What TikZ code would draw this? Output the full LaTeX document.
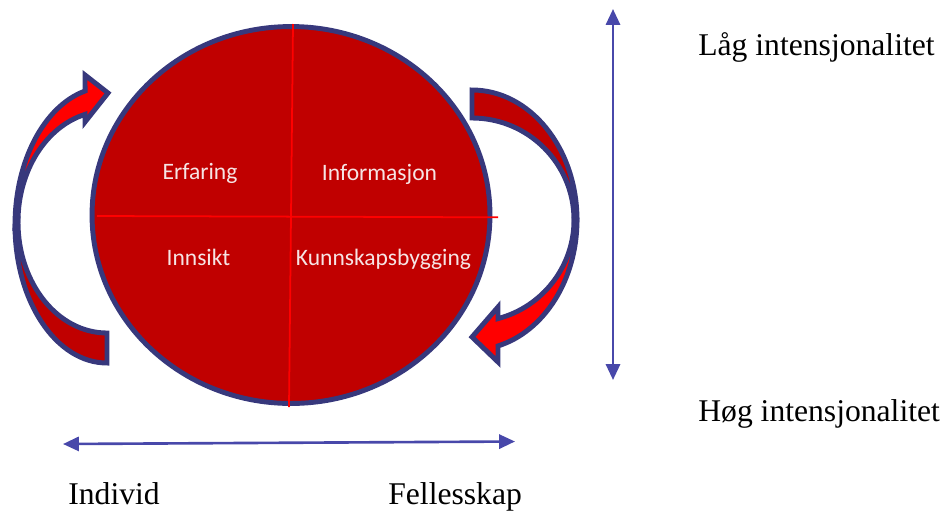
\documentclass[tikz,border=0pt]{standalone}
\usepackage{fontspec}
\newfontfamily\quadfont{Carlito}
\newfontfamily\axisfont{Liberation Serif}
\usetikzlibrary{shapes.geometric,arrows.meta}

\definecolor{discred}{RGB}{192,0,0}
\definecolor{brightred}{RGB}{255,0,0}
\definecolor{rimblue}{RGB}{55,56,124}
\definecolor{axisblue}{RGB}{72,72,170}
\definecolor{quadtext}{RGB}{246,228,228}

\tikzset{
    rim/.style={draw=rimblue, line width=2.8pt},
    crossline/.style={draw=brightred, line width=1pt},
    quadlabel/.style={font=\quadfont\fontsize{13.4}{16}\selectfont, text=quadtext, inner sep=0pt, anchor=base},
    axislabel/.style={font=\axisfont\fontsize{18}{22}\selectfont, inner sep=0pt, anchor=base west},
    axisarrow/.style={draw=axisblue, line width=1.5pt, {Triangle[length=9pt,width=8pt]}-{Triangle[length=9pt,width=8pt]}}
}

\begin{document}
\begin{tikzpicture}[x=0.02cm, y=-0.02cm]
    \useasboundingbox (0,0) rectangle (942,511);

    % Curved arrow on the left (tail at the bottom, head at the top)
    \draw[rim, fill=discred] (15,225) arc[start angle=180, end angle=90, x radius=92, y radius=138]
        -- (107,333) arc[start angle=90, end angle=180, x radius=89, y radius=111] -- cycle;
    \draw[rim, fill=brightred] (15,225) arc[start angle=180, end angle=256.2, x radius=92, y radius=138]
        -- (85,75) -- (108,93) -- (85,122) -- (85,114.4)
        arc[start angle=255.7, end angle=180, x radius=89, y radius=111] -- cycle;

    % Curved arrow on the right (tail at the top, head at the bottom)
    \draw[rim, fill=discred] (472,90) arc[start angle=270, end angle=360, x radius=105, y radius=130]
        -- (574,220) arc[start angle=0, end angle=-90, x radius=102, y radius=102] -- cycle;
    \draw[rim, fill=brightred] (577,220) arc[start angle=0, end angle=75.66, x radius=105, y radius=130]
        -- (498,362) -- (472,337) -- (498,307) -- (498,318.6)
        arc[start angle=75.23, end angle=0, x radius=102, y radius=102] -- cycle;

    % The disc with its four quadrants
    \node[ellipse, rim, fill=discred, minimum width=7.96cm, minimum height=7.54cm, inner sep=0pt] (disc) at (291,215) {};
    \coordinate (qtop) at (293,24);
    \coordinate (qbottom) at (289,407);
    \coordinate (qleft) at (97,216);
    \coordinate (qright) at (498,217.3);
    \draw[crossline] (qtop) -- (qbottom);
    \draw[crossline] (qleft) -- (qright);

    \node[quadlabel] (erfaring) at (200,179.3) {Erfaring};
    \node[quadlabel] (informasjon) at (379.5,180.7) {Informasjon};
    \node[quadlabel] (innsikt) at (198.5,265) {Innsikt};
    \node[quadlabel] (kunnskap) at (383.5,265) {Kunnskapsbygging};

    % Axes
    \coordinate (lowtip) at (613,9);
    \coordinate (hightip) at (613,380);
    \coordinate (individtip) at (63,444);
    \coordinate (fellestip) at (515,441.5);
    \draw[axisarrow] (lowtip) -- (hightip);
    \draw[axisarrow] (individtip) -- (fellestip);

    \node[axislabel] (laag) at (698,55) {Låg intensjonalitet};
    \node[axislabel] (hoeg) at (698,421.7) {Høg intensjonalitet};
    \node[axislabel] (individ) at (68,504.5) {Individ};
    \node[axislabel] (felles) at (388,504.5) {Fellesskap};
\end{tikzpicture}
\end{document}
